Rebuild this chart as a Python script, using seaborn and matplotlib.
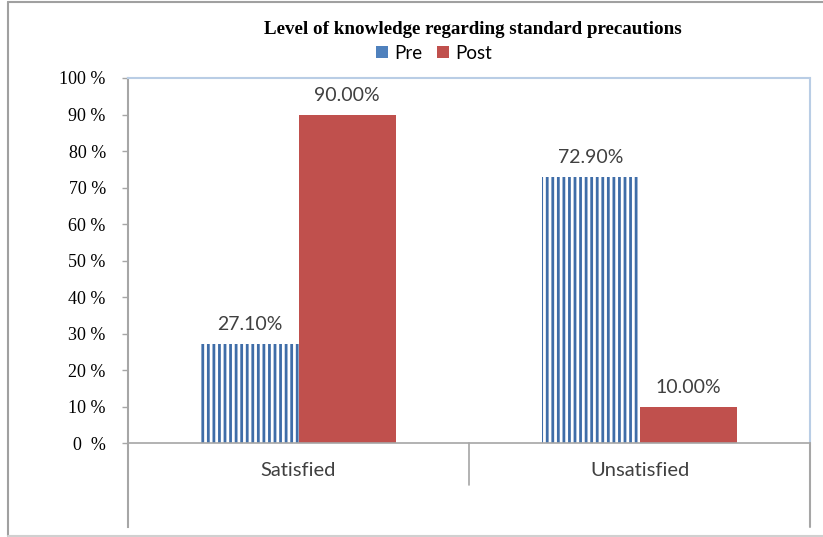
import matplotlib
matplotlib.use("Agg")
import matplotlib.pyplot as plt
from matplotlib.patches import Patch
from matplotlib.lines import Line2D
import seaborn as sns
import pandas as pd

# Knowledge levels before and after the intervention (percent)
categories = ["Satisfied", "Unsatisfied"]
groups = ["Pre", "Post"]
pre_values = [27.10, 72.90]
post_values = [90.00, 10.00]
y_ticks = [0, 10, 20, 30, 40, 50, 60, 70, 80, 90, 100]
y_tick_labels = ["0  %", "10 %", "20 %", "30 %", "40 %", "50 %",
                 "60 %", "70 %", "80 %", "90 %", "100 %"]
title = "Level of knowledge regarding standard precautions"

df = pd.DataFrame({
    "category": categories * 2,
    "group": [groups[0]] * len(categories) + [groups[1]] * len(categories),
    "value": pre_values + post_values,
})

BLUE = "#3F6DA8"
BLUE_LEGEND = "#4F81BD"
RED = "#C0504D"
GRID = "#A6A6A6"
FRAME_BLUE = "#B9CDE5"
TEXT = "#404040"

sns.set_theme(style="white")
plt.rcParams["hatch.linewidth"] = 2.0

W, H = 823, 537
fig = plt.figure(figsize=(W / 100, H / 100), dpi=100)
ax_left, ax_right, ax_top, ax_bottom = 128, 810, 78, 527
ax = fig.add_axes([ax_left / W, 1 - ax_bottom / H,
                   (ax_right - ax_left) / W, (ax_bottom - ax_top) / H])

sns.barplot(data=df, x="category", y="value", hue="group",
            hue_order=groups, order=categories,
            palette=[BLUE, RED], width=0.57, saturation=1,
            legend=False, ax=ax)

# Striped "Pre" bars
for bar in ax.containers[0]:
    bar.set_facecolor("white")
    bar.set_edgecolor(BLUE)
    bar.set_hatch("|||")
    bar.set_linewidth(0)
for bar in ax.containers[1]:
    bar.set_linewidth(0)

ax.set_xlim(-0.5, 1.5)
ax.set_ylim(-23, 100)
ax.set_xlabel("")
ax.set_ylabel("")
ax.set_xticks([])

ax.set_yticks(y_ticks)
ax.set_yticklabels(y_tick_labels, fontfamily="Liberation Serif",
                   fontsize=13, color="black")
ax.tick_params(axis="y", which="major", direction="out", length=4.5,
               width=1, color=GRID, pad=11.5, left=True)

for side in ["bottom", "right"]:
    ax.spines[side].set_visible(False)
ax.spines["left"].set_color(GRID)
ax.spines["left"].set_linewidth(1.5)
ax.spines["top"].set_color(FRAME_BLUE)
ax.spines["top"].set_linewidth(1.5)

# Right border: blue along the plot area, gray below the baseline
ax.plot([1.5, 1.5], [0, 100], color=FRAME_BLUE, lw=1.5, clip_on=False, zorder=5)
ax.plot([1.5, 1.5], [-23, 0], color=GRID, lw=1.5, clip_on=False, zorder=5)
# Baseline and category separator
ax.plot([-0.5, 1.5], [0, 0], color=GRID, lw=1.2, clip_on=False, zorder=5)
ax.plot([0.5, 0.5], [0, -11.5], color=GRID, lw=1.2, clip_on=False, zorder=5)

# Category labels below the baseline
for i, cat in enumerate(categories):
    ax.text(i, -7.4, cat, ha="center", va="center", fontfamily="Lato",
            fontsize=14.5, color=TEXT)

# Value labels above bars
for container in ax.containers:
    for bar in container:
        h = bar.get_height()
        ax.text(bar.get_x() + bar.get_width() / 2, h + 5.3, f"{h:.2f}%",
                ha="center", va="center", fontfamily="Lato", fontsize=14,
                color=TEXT)

fig.text(473 / W, 1 - 30 / H, title, ha="center", va="center",
         fontfamily="Liberation Serif", fontweight="bold", fontsize=13.7,
         color="black")

handles = [Patch(facecolor=BLUE_LEGEND, edgecolor="none"),
           Patch(facecolor=RED, edgecolor="none")]
fig.legend(handles, groups, loc="center", bbox_to_anchor=(434 / W, 1 - 53 / H),
           ncol=2, frameon=False, handlelength=0.65, handleheight=0.65,
           handletextpad=0.3, columnspacing=0.8,
           prop={"family": "Lato", "size": 13.5}, labelcolor="black")

# Outer frame of the figure
fig.add_artist(Line2D([8 / W, 8 / W], [1 - 536 / H, 1 - 2 / H],
                      transform=fig.transFigure, color="#A0A0A0", lw=1.5))
fig.add_artist(Line2D([8 / W, 1], [1 - 2 / H, 1 - 2 / H],
                      transform=fig.transFigure, color="#A0A0A0", lw=1.5))
fig.add_artist(Line2D([8 / W, 1], [1 - 536 / H, 1 - 536 / H],
                      transform=fig.transFigure, color="#D0D0D0", lw=1.5))

fig.savefig("out.png", dpi=100)
